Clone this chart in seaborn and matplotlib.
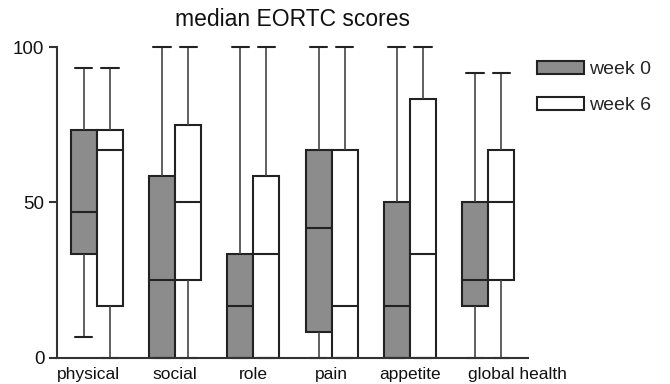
import numpy as np
import pandas as pd
import matplotlib
matplotlib.use("Agg")
import matplotlib.pyplot as plt
import matplotlib.transforms as mtransforms
from matplotlib.patches import Patch
import seaborn as sns

# EORTC scale names and the two time points
scales = ["physical", "social", "role", "pain", "appetite", "global health"]
weeks = ["week 0", "week 6"]

# Five-number summaries per scale: minimum, lower quartile, median, upper quartile, maximum
week0_min = [6.7, 0, 0, 0, 0, 0]
week0_q1 = [33.3, 0, 0, 8.3, 0, 16.7]
week0_med = [46.7, 25, 16.7, 41.7, 16.7, 25]
week0_q3 = [73.3, 58.3, 33.3, 66.7, 50, 50]
week0_max = [93.3, 100, 100, 100, 100, 91.7]

week6_min = [0, 0, 0, 0, 0, 0]
week6_q1 = [16.7, 25, 0, 0, 0, 25]
week6_med = [66.7, 50, 33.3, 16.7, 33.3, 50]
week6_q3 = [73.3, 75, 58.3, 66.7, 83.3, 66.7]
week6_max = [93.3, 100, 100, 100, 100, 91.7]

summaries = {
    "week 0": [week0_min, week0_q1, week0_med, week0_q3, week0_max],
    "week 6": [week6_min, week6_q1, week6_med, week6_q3, week6_max],
}

rows = []
for week, parts in summaries.items():
    for i, scale in enumerate(scales):
        for part in parts:
            rows.append({"scale": scale, "week": week, "score": part[i]})
df = pd.DataFrame(rows)

sns.set_theme(style="ticks")
plt.rcParams["font.family"] = ["Liberation Sans", "DejaVu Sans"]

dark = "#222222"
fills = {"week 0": "#8c8c8c", "week 6": "#ffffff"}

fig = plt.figure(figsize=(6.7, 3.84), dpi=100)
ax = fig.add_axes([57 / 670, 1 - 357.5 / 384, (528 - 57) / 670, (357.5 - 47) / 384])

sns.boxplot(
    data=df, x="scale", y="score", hue="week",
    order=scales, hue_order=weeks, palette=fills,
    width=0.667, gap=0, whis=(0, 100), showfliers=False,
    linecolor=dark, linewidth=1.5, legend=False, ax=ax,
    whiskerprops={"color": "#444444", "linewidth": 1.2},
    capprops={"color": "#222222", "linewidth": 1.5},
)

# widen whisker caps and keep them visible at the axis limits
for ln in ax.lines:
    x = np.asarray(ln.get_xdata(), dtype=float)
    y = np.asarray(ln.get_ydata(), dtype=float)
    ln.set_clip_on(False)
    if len(x) == 2 and y[0] == y[1] and (x[1] - x[0]) < 0.3:
        c = x.mean()
        ln.set_xdata([c - 0.11, c + 0.11])

ax.set_xlim(-0.51, 5.51)
ax.set_ylim(0, 100)
ax.set_yticks([0, 50, 100])
ax.set_xlabel("")
ax.set_ylabel("")
ax.tick_params(axis="y", length=6, width=1.5, color="#333333", pad=3, labelsize=13.5)
ax.tick_params(axis="x", length=0, pad=6.5, labelsize=12.5)
for lab in ax.get_xticklabels() + ax.get_yticklabels():
    lab.set_color("#111111")

# nudge the outermost category labels so they sit clear of their neighbours
label_shift_px = {"physical": -8.5, "global health": 29}
for lab in ax.get_xticklabels():
    dx = label_shift_px.get(lab.get_text(), 0)
    if dx:
        lab.set_transform(lab.get_transform()
                          + mtransforms.ScaledTranslation(dx / 100, 0, fig.dpi_scale_trans))

sns.despine(ax=ax)
for side in ("left", "bottom"):
    ax.spines[side].set_linewidth(1.5)
    ax.spines[side].set_color("#333333")

ax.set_title("median EORTC scores", fontsize=16.5, pad=15, color="#111111")

handles = [Patch(facecolor=fills[w], edgecolor=dark, linewidth=1.5, label=w) for w in weeks]
fig.legend(
    handles=handles, loc="upper left", bbox_to_anchor=(537 / 670, 1 - 61 / 384),
    frameon=False, fontsize=14, handlelength=2.4, handleheight=0.68,
    handletextpad=0.3, labelspacing=0.95, borderpad=0, borderaxespad=0,
)

fig.savefig("out.png", dpi=100)
